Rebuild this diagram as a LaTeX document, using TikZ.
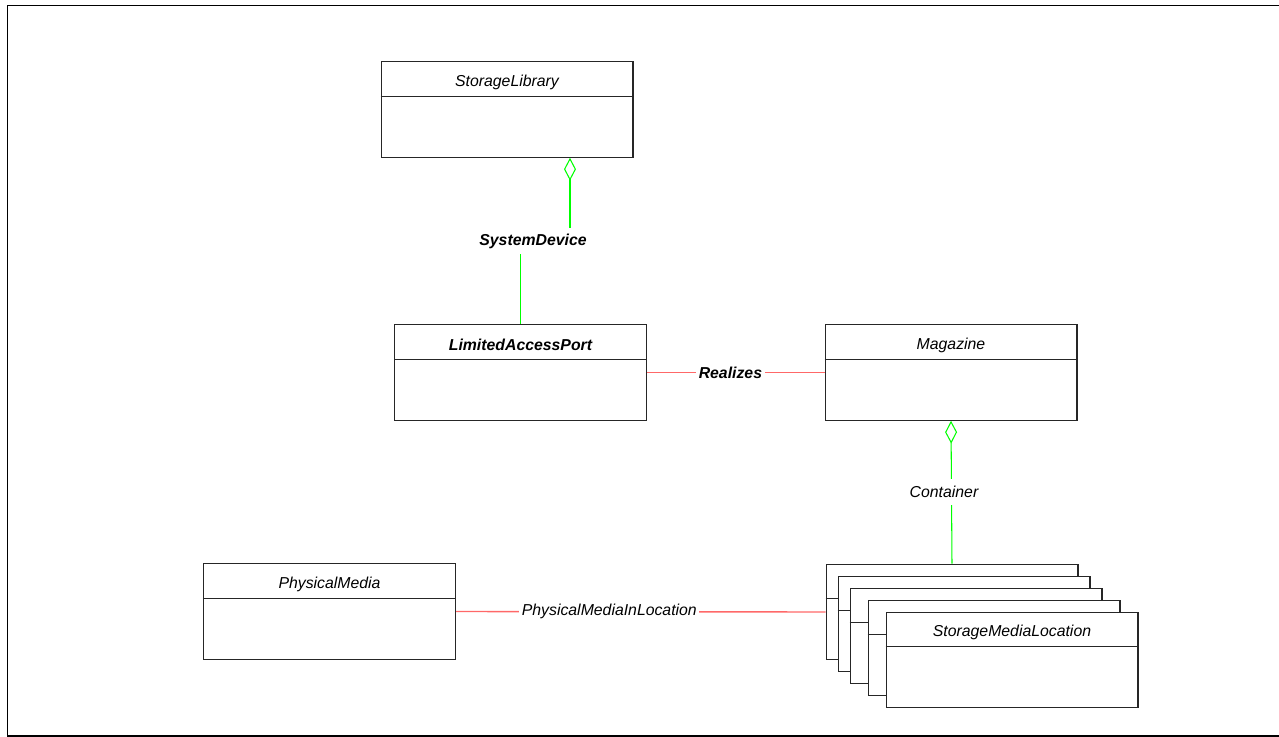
\documentclass[tikz,border=0pt]{standalone}
\usepackage{fontspec}
\setsansfont{Liberation Sans}
\usepackage{tikz}
\usetikzlibrary{arrows.meta,positioning}
\definecolor{relred}{HTML}{FF6868}
\definecolor{agggreen}{HTML}{00FF00}
\tikzset{
  uml/.style={x=0.02cm, y=-0.02cm, font=\sffamily\itshape\fontsize{9}{10}\selectfont},
  cls/.style={draw=black!85, fill=white, line width=0.6pt, minimum width=5.04cm, minimum height=1.91cm, inner sep=0pt},
  ttl/.style={inner sep=0pt},
  bld/.style={font=\sffamily\bfseries\itshape\fontsize{9}{10}\selectfont},
  agg/.style={draw=agggreen, line width=0.6pt, {Diamond[open, length=13pt, width=6.8pt, line width=0.6pt]}-},
  assoc/.style={draw=agggreen, line width=0.6pt},
  rel/.style={draw=relred, line width=0.8pt},
  lbl/.style={fill=white, inner sep=1.5pt},
  frm/.style={draw=black, line width=1pt}
}
% class box: [title style]{name}{centre}{title}
\newcommand{\umlbox}[4][]{%
  \node[cls] (#2) at (#3) {};
  \node[ttl,#1] (#2-t) at ([yshift=-0.42cm]#2.north) {#4};
  \draw[draw=black!85, line width=0.6pt] ([yshift=-0.7cm]#2.north west) -- ([yshift=-0.7cm]#2.north east);
}

\begin{document}
\begin{tikzpicture}[uml]
\useasboundingbox (0,0) rectangle (1279,737);
\draw[frm] (1280,5.5) -- (7.5,5.5) -- (7.5,736) -- (1280,736);

\umlbox{sl}{507,109.5}{StorageLibrary}
\umlbox[bld]{lap}{520.5,372.5}{LimitedAccessPort}
\umlbox{mag}{951,372.5}{Magazine}
\umlbox{pm}{329.5,611.5}{PhysicalMedia}
% stacked locations, back to front
\foreach \dx/\dy [count=\i] in {0/0,12/12,24/24,42/36}{
  \umlbox{sml\i}{952+\dx,612+\dy}{}
}
\umlbox{sml5}{1012,660}{StorageMediaLocation}

% connectors
\node[lbl, bld, minimum height=0.52cm, inner sep=0pt] (sysdev) at (533,241) {SystemDevice};
\coordinate (sd1) at ([xshift=1.26cm]sl.south);
\draw[agg] (sd1) -- (sd1 |- sysdev.north);
\draw[assoc] (lap.north |- sysdev.south) -- (lap.north);
\draw[rel] (lap.east) -- node[lbl, bld, pos=0.47] (rlz) {Realizes} (mag.west);
\draw[agg] (mag.south) -- node[lbl, minimum height=0.52cm, inner sep=0pt, xshift=-0.15cm] (cont) {Container} (sml1.north);
\draw[rel] (pm.east) -- node[lbl, pos=0.415] (pmil) {PhysicalMediaInLocation} (sml1.west);
\end{tikzpicture}
\end{document}
